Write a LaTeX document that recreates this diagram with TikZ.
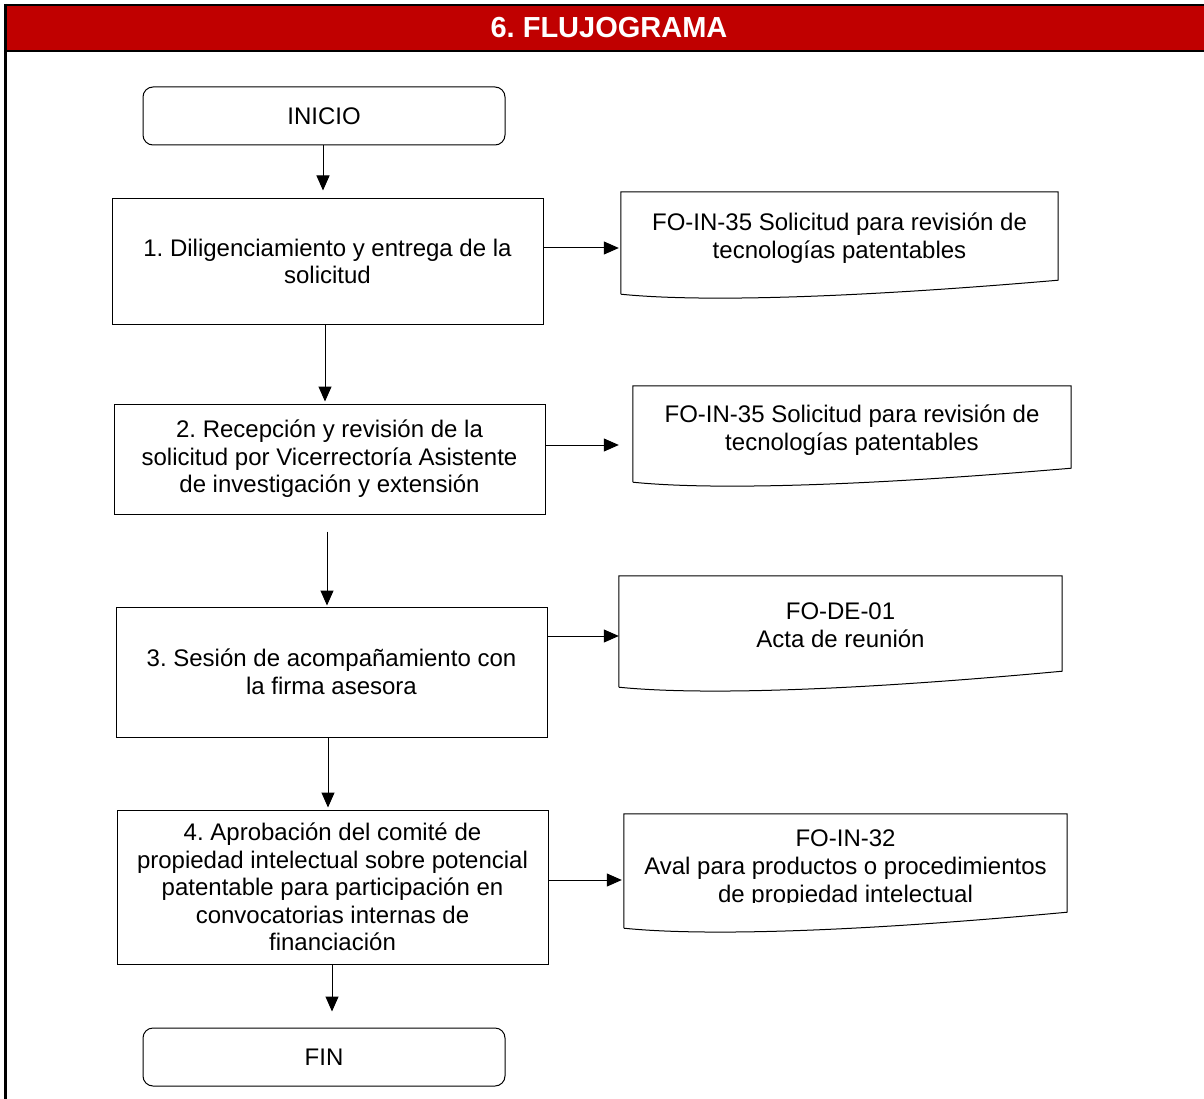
\documentclass[tikz,border=0pt]{standalone}
\usepackage{fontspec}
\setmainfont{Liberation Sans}
\usetikzlibrary{arrows.meta,calc}
\definecolor{hdrred}{HTML}{C00000}
\frenchspacing
\begin{document}
\begin{tikzpicture}[x=1pt,y=-1pt,
  txt/.style={font=\fontsize{24}{27.5}\selectfont, align=center},
  proc/.style={txt, draw, line width=1pt, minimum width=431pt, inner sep=0pt},
  term/.style={txt, draw, line width=1pt, rounded corners=10pt, minimum width=362pt, minimum height=58pt, inner sep=0pt},
  docarea/.style={inner sep=0pt, draw=none},
  docline/.style={line width=1pt},
  flow/.style={line width=1pt, -{Triangle[length=15pt,width=13pt]}},
  frame/.style={line width=2.5pt}
]
\useasboundingbox (0,0) rectangle (1204,1099);
% header
\fill[hdrred] (5,5) rectangle (1204,51);
\draw[frame] (4,5) -- (1204,5);
\draw[frame] (4,51) -- (1204,51);
\draw[frame] (5.5,4) -- (5.5,1099);
\node[font=\bfseries\fontsize{29}{32}\selectfont, text=white] (title) at (609,28) {6. FLUJOGRAMA};

% terminals and processes
\node[term] (inicio) at (324,116) {INICIO};
\node[proc, minimum height=125pt] (box1) at (327.5,261.5) {1. Diligenciamiento y entrega de la\\solicitud};
\node[proc, minimum height=110pt] (box2) at (329.5,459) {2. Recepción y revisión de la\\solicitud por Vicerrectoría Asistente\\de investigación y extensión};
\node[proc, minimum height=130pt] (box3) at (331.5,672) {3. Sesión de acompañamiento con\\la firma asesora};
\node[proc, minimum height=154pt] (box4) at (332.5,887) {4. Aprobación del comité de\\propiedad intelectual sobre potencial\\patentable para participación en\\convocatorias internas de\\financiación};
\node[term] (fin) at (324,1057) {FIN};

% documents (outline areas)
\node[docarea, minimum width=437pt, minimum height=102pt] (doc1) at (839.5,243) {};
\node[docarea, minimum width=438pt, minimum height=96pt] (doc2) at (852,434) {};
\node[docarea, minimum width=443pt, minimum height=111pt] (doc3) at (840.5,631.5) {};
\node[docarea, minimum width=443pt, minimum height=114pt] (doc4) at (845.5,871) {};

\foreach \d/\r in {doc1/14,doc2/14,doc3/16,doc4/16}{
  \draw[docline] (\d.south west) -- (\d.north west) -- (\d.north east)
    -- ([yshift=\r pt]\d.south east)
    .. controls ($(\d.south west)+(228,4)$) and ($(\d.south west)+(79,8)$) .. (\d.south west);
}

% document texts
\node[txt, font=\fontsize{24}{28}\selectfont] (doc1t) at (839.5,238) {FO-IN-35 Solicitud para revisión de\\tecnologías patentables};
\node[txt, font=\fontsize{24}{28}\selectfont] (doc2t) at (852,430) {FO-IN-35 Solicitud para revisión de\\tecnologías patentables};
\node[txt, font=\fontsize{24}{28}\selectfont] (doc3t) at (840.5,625) {FO-DE-01\\Acta de reunión};
\begin{scope}
  \clip (600,805) rectangle (1100,902);
  \node[txt, font=\fontsize{24}{28}\selectfont] (doc4t) at (845.5,869) {FO-IN-32\\Aval para productos o procedimientos\\de propiedad intelectual};
\end{scope}

% vertical flow
\draw[flow, shorten >=8pt] ([xshift=-1pt]inicio.south) -- ([xshift=-1pt]inicio.south |- box1.north);
\draw[flow, shorten >=2pt] ([xshift=-2.5pt]box1.south) -- ([xshift=-2.5pt]box1.south |- box2.north);
\draw[flow, shorten <=17pt, shorten >=1pt] ([xshift=-2.5pt]box2.south) -- ([xshift=-2.5pt]box2.south |- box3.north);
\draw[flow, shorten >=2pt] ([xshift=-3.5pt]box3.south) -- ([xshift=-3.5pt]box3.south |- box4.north);
\draw[flow, shorten >=16pt] ([xshift=-0.5pt]box4.south) -- ([xshift=-0.5pt]box4.south |- fin.north);

% horizontal flow
\draw[flow, shorten >=2pt] (box1.east |- 0,248) -- (doc1.west |- 0,248);
\draw[flow, shorten >=14pt] (box2.east |- 0,445) -- (doc2.west |- 0,445);
\draw[flow] (box3.east |- 0,636) -- (doc3.west |- 0,636);
\draw[flow, shorten >=2pt] (box4.east |- 0,880) -- (doc4.west |- 0,880);
\end{tikzpicture}
\end{document}
